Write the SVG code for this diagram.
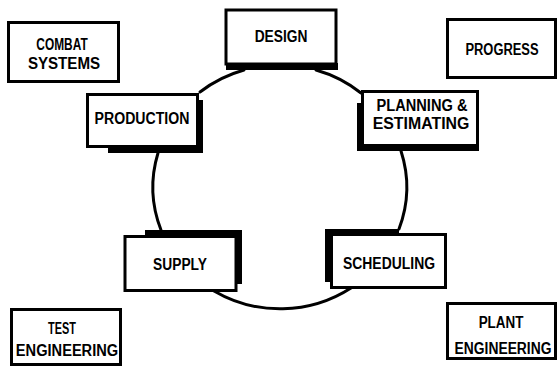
<svg xmlns="http://www.w3.org/2000/svg" width="558" height="367" viewBox="0 0 558 367">
<style>
.box{fill:#fff;stroke:#000;stroke-width:3}
.sh{fill:#000}
.conn{fill:none;stroke:#000;stroke-width:3;stroke-linecap:round}
text{font-family:"Liberation Sans",Arial,sans-serif;font-weight:bold;font-size:17px;fill:#000;text-anchor:middle}
</style>
<rect width="558" height="367" fill="#fff"/>
<g id="connectors">
<path class="conn" d="M200,92 A127,122 0 0 1 244,70"/>
<path class="conn" d="M316,70 A127,122 0 0 1 361,93"/>
<path class="conn" d="M401,151 A127,122 0 0 1 399,229"/>
<path class="conn" d="M351,288 A127,122 0 0 1 214,291"/>
<path class="conn" d="M161,230 A127,122 0 0 1 158,153"/>
</g>
<g id="combat-systems">
<rect class="box" x="8.5" y="22.5" width="110" height="59"/>
<text transform="translate(62,50) scale(0.7,1)">COMBAT</text>
<text transform="translate(64,69) scale(0.89,1)">SYSTEMS</text>
</g>
<g id="progress">
<rect class="box" x="447.5" y="19.5" width="108" height="58"/>
<text transform="translate(502,55) scale(0.76,1)">PROGRESS</text>
</g>
<g id="test-engineering">
<rect class="box" x="11.5" y="309.5" width="109" height="55"/>
<text transform="translate(62,334) scale(0.64,1)">TEST</text>
<text transform="translate(67,356) scale(0.86,1)">ENGINEERING</text>
</g>
<g id="plant-engineering">
<rect class="box" x="447.5" y="303.5" width="108" height="55"/>
<text transform="translate(501,328) scale(0.79,1)">PLANT</text>
<text transform="translate(503,354) scale(0.815,1)">ENGINEERING</text>
</g>
<g id="design">
<rect class="box" x="226" y="10" width="110" height="54"/>
<rect class="sh" x="226" y="63" width="112" height="7"/>
<text transform="translate(281,42) scale(0.81,1)">DESIGN</text>
</g>
<g id="production">
<rect class="box" x="87.5" y="94.5" width="110" height="52"/>
<rect class="sh" x="197" y="100" width="6" height="53"/>
<rect class="sh" x="108" y="147" width="95" height="6"/>
<text transform="translate(142,124) scale(0.83,1)">PRODUCTION</text>
</g>
<g id="planning-estimating">
<rect class="box" x="362.5" y="91.5" width="115" height="54"/>
<rect class="sh" x="357" y="103" width="5" height="48"/>
<rect class="sh" x="357" y="146" width="122" height="5"/>
<text transform="translate(422,111) scale(0.86,1)">PLANNING &amp;</text>
<text transform="translate(421,129) scale(0.935,1)">ESTIMATING</text>
</g>
<g id="supply">
<rect class="box" x="125" y="236.5" width="111" height="54"/>
<rect class="sh" x="145" y="230" width="97" height="6"/>
<rect class="sh" x="237" y="230" width="5" height="54"/>
<text transform="translate(180,270) scale(0.81,1)">SUPPLY</text>
</g>
<g id="scheduling">
<rect class="box" x="331.5" y="234.5" width="114" height="53"/>
<rect class="sh" x="325" y="229" width="74" height="5"/>
<rect class="sh" x="325" y="229" width="6" height="53"/>
<text transform="translate(389,269) scale(0.82,1)">SCHEDULING</text>
</g>
</svg>
